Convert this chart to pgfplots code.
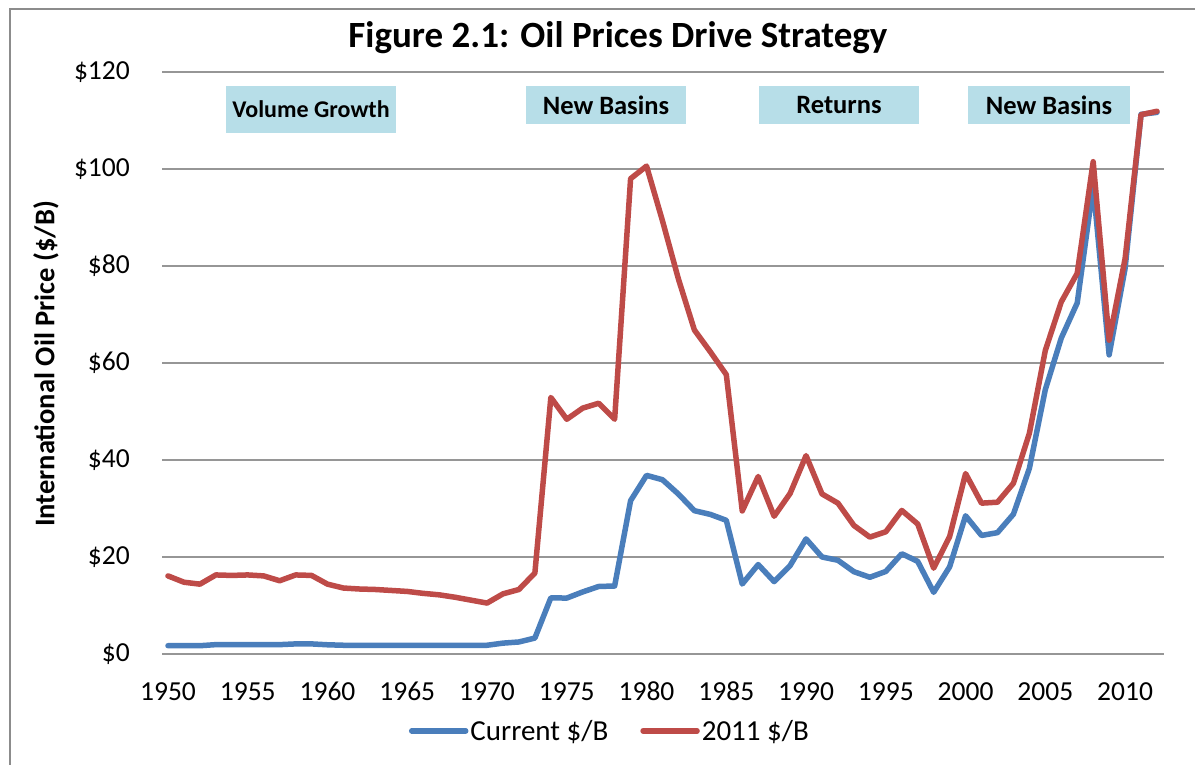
\documentclass[border=0pt]{standalone}
\usepackage{pgfplots}
\pgfplotsset{compat=1.18}
\usepackage{fontspec}
\setmainfont{Carlito}
\definecolor{cblue}{RGB}{74,126,187}
\definecolor{cred}{RGB}{190,75,72}
\definecolor{boxc}{RGB}{183,222,232}
\definecolor{gridc}{RGB}{150,150,150}
\definecolor{borderc}{RGB}{140,140,140}
\begin{document}
\begin{tikzpicture}[x=1bp,y=1bp]
\useasboundingbox (0,0) rectangle (1195,765);
\draw[borderc, line width=1.5bp] (10,0) -- (10,756) -- (1195,756);
\begin{axis}[
  at={(162bp,111bp)}, anchor=south west,
  scale only axis, width=1002bp, height=582bp,
  xmin=1949.624, xmax=2012.44, ymin=0, ymax=120,
  xtick={1950,1955,...,2010}, ytick={0,20,...,120},
  axis line style={draw=none}, major tick length=0pt,
  ymajorgrids, grid style={gridc, line width=1.8bp},
  /pgf/number format/assume math mode=true,
  /pgf/number format/1000 sep={},
  yticklabel={\$\pgfmathprintnumber{\tick}},
  tick label style={font=\fontsize{27.5bp}{33bp}\selectfont, inner sep=0pt},
  yticklabel style={anchor=east, xshift=-32bp},
  xticklabel style={anchor=north, yshift=-28bp},
  legend style={draw=none, fill=none, at={(0.447,-0.132)}, anchor=center,
    font=\fontsize{29bp}{34bp}\selectfont, legend columns=2,
    /tikz/every even column/.append style={column sep=30bp}},
  legend image code/.code={\draw[#1, line width=5.5bp, line cap=round] (0bp,0bp) -- (54bp,0bp);},
  every axis plot/.append style={line width=5.5bp, line join=round, line cap=round},
]
\addplot[cblue, mark=none] coordinates {
(1950,1.71)(1951,1.71)(1952,1.71)(1953,1.93)(1954,1.93)(1955,1.93)(1956,1.93)(1957,1.93)
(1958,2.08)(1959,2.08)(1960,1.90)(1961,1.80)(1962,1.80)(1963,1.80)(1964,1.80)(1965,1.80)
(1966,1.80)(1967,1.80)(1968,1.80)(1969,1.80)(1970,1.80)(1971,2.24)(1972,2.48)(1973,3.29)
(1974,11.58)(1975,11.53)(1976,12.80)(1977,13.92)(1978,14.02)(1979,31.61)(1980,36.83)
(1981,35.93)(1982,32.97)(1983,29.55)(1984,28.78)(1985,27.56)(1986,14.43)(1987,18.44)
(1988,14.92)(1989,18.23)(1990,23.73)(1991,20.00)(1992,19.32)(1993,16.97)(1994,15.82)
(1995,17.02)(1996,20.67)(1997,19.09)(1998,12.72)(1999,17.97)(2000,28.50)(2001,24.44)
(2002,25.02)(2003,28.83)(2004,38.27)(2005,54.52)(2006,65.14)(2007,72.39)(2008,96.5)
(2009,61.67)(2010,79.50)(2011,111.26)(2012,111.67)};
\addlegendentry{Current \$/B}
\addplot[cred, mark=none] coordinates {
(1950,16.1)(1951,14.8)(1952,14.4)(1953,16.3)(1954,16.2)(1955,16.3)(1956,16.1)(1957,15.1)
(1958,16.3)(1959,16.2)(1960,14.4)(1961,13.6)(1962,13.4)(1963,13.3)(1964,13.1)(1965,12.9)
(1966,12.5)(1967,12.2)(1968,11.7)(1969,11.1)(1970,10.5)(1971,12.4)(1972,13.3)(1973,16.7)
(1974,52.9)(1975,48.4)(1976,50.7)(1977,51.7)(1978,48.4)(1979,98.0)(1980,100.6)
(1981,89.3)(1982,77.3)(1983,66.8)(1984,62.3)(1985,57.6)(1986,29.5)(1987,36.6)
(1988,28.4)(1989,33.1)(1990,40.9)(1991,33.0)(1992,31.1)(1993,26.5)(1994,24.1)
(1995,25.2)(1996,29.6)(1997,26.8)(1998,17.7)(1999,24.2)(2000,37.2)(2001,31.1)
(2002,31.3)(2003,35.2)(2004,45.5)(2005,62.6)(2006,72.6)(2007,78.5)(2008,101.5)
(2009,64.7)(2010,81.5)(2011,111.2)(2012,111.9)};
\addlegendentry{2011 \$/B}
\end{axis}
\node[font=\fontsize{37bp}{42bp}\selectfont\bfseries] at (618,727) {Figure 2.1: Oil Prices Drive Strategy};
\node[rotate=90, font=\fontsize{28.5bp}{33bp}\selectfont\bfseries] at (46,401) {International Oil Price (\$/B)};
\begin{scope}[every node/.style={fill=boxc, inner sep=0pt, font=\fontsize{26.5bp}{30bp}\selectfont\bfseries, align=center}]
\node[minimum width=170bp, minimum height=47bp, font=\fontsize{24bp}{28bp}\selectfont\bfseries] at (311,655.5) {Volume Growth};
\node[minimum width=160bp, minimum height=38bp] at (606,660) {New Basins};
\node[minimum width=160bp, minimum height=38bp] at (839,660) {Returns};
\node[minimum width=162bp, minimum height=38bp] at (1049,660) {New Basins};
\end{scope}
\end{tikzpicture}
\end{document}
